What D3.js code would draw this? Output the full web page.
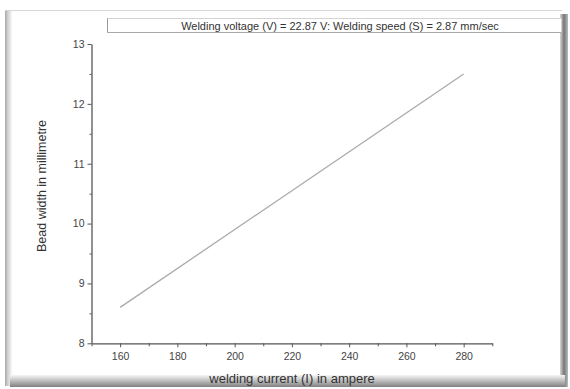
<!DOCTYPE html>
<html>
<head>
<meta charset="utf-8">
<script src="https://cdn.jsdelivr.net/npm/d3@7"></script>
<style>
  body { margin: 0; background: #fff; }
  svg { display: block; font-family: Arial, "Liberation Sans", sans-serif; }
  .axis path, .axis line { stroke: #555; }
  .axis text { fill: #444; font-size: 10.5px; }
</style>
</head>
<body>
<svg id="chart" width="570" height="389"></svg>
<script>
// data
const currents = [160, 280];
const beadWidths = [8.6, 12.5];
const xTicks = [160, 180, 200, 220, 240, 260, 280];
const yTicks = [8, 9, 10, 11, 12, 13];
const titleText = "Welding voltage (V) = 22.87 V: Welding speed (S) = 2.87 mm/sec";

const svg = d3.select("#chart");
const defs = svg.append("defs");

function grad(id, x2, y2, stops) {
  let g = defs.append("linearGradient").attr("id", id)
    .attr("x1", 0).attr("y1", 0).attr("x2", x2).attr("y2", y2);
  stops.forEach(s => g.append("stop").attr("offset", s[0]).attr("stop-color", s[1]));
}
grad("leftBand", 1, 0, [[0, "#a8a8a8"], [0.4, "#d0d0d0"], [1, "#f8f8f8"]]);
grad("rightBand", 1, 0, [[0, "#d8d8d8"], [0.5, "#777"], [1, "#bbb"]]);
grad("bottomBand", 0, 1, [[0, "#f6f6f6"], [0.6, "#b0b0b0"], [1, "#808080"]]);

// frame
svg.append("line").attr("x1", 5).attr("x2", 562).attr("y1", 10.5).attr("y2", 10.5)
  .attr("stroke", "#d6d6d6");
svg.append("rect").attr("x", 5).attr("y", 11).attr("width", 7).attr("height", 375)
  .attr("fill", "url(#leftBand)");
svg.append("rect").attr("x", 560).attr("y", 14).attr("width", 8).attr("height", 373)
  .attr("fill", "url(#rightBand)");
svg.append("rect").attr("x", 10).attr("y", 375).attr("width", 555).attr("height", 12)
  .attr("fill", "url(#bottomBand)");

// title box
svg.append("rect").attr("x", 107.5).attr("y", 18.5).attr("width", 454).attr("height", 14)
  .attr("fill", "#fff").attr("stroke", "#d4d4d4");
svg.append("line").attr("x1", 107.5).attr("x2", 107.5).attr("y1", 18.5).attr("y2", 32.5)
  .attr("stroke", "#999");
svg.append("line").attr("x1", 107.5).attr("x2", 561.5).attr("y1", 32.5).attr("y2", 32.5)
  .attr("stroke", "#aaa");
svg.append("text").attr("x", 340).attr("y", 29.5).attr("text-anchor", "middle")
  .attr("font-size", "11px").attr("fill", "#333").text(titleText);

const x = d3.scaleLinear().domain([150, 290]).range([91.5, 492.3]);
const y = d3.scaleLinear().domain([8, 13]).range([343.3, 44]);

// x axis: major ticks + minor ticks
const xAxis = svg.append("g").attr("class", "axis")
  .attr("transform", "translate(0,343.3)")
  .call(d3.axisBottom(x).tickValues(xTicks).tickSize(4).tickPadding(5).tickSizeOuter(0));
xAxis.select(".domain").attr("stroke-width", 1.3);
svg.append("g").attr("class", "axis")
  .attr("transform", "translate(0,343.3)")
  .call(d3.axisBottom(x).tickValues(d3.range(150, 300, 20)).tickSize(3).tickFormat("").tickSizeOuter(0))
  .select(".domain").remove();

const yAxis = svg.append("g").attr("class", "axis")
  .attr("transform", "translate(91.5,0)")
  .call(d3.axisLeft(y).tickValues(yTicks).tickFormat(d3.format("d")).tickSize(4).tickPadding(3).tickSizeOuter(0));
yAxis.select(".domain").attr("stroke-width", 1.3);
svg.append("g").attr("class", "axis")
  .attr("transform", "translate(91.5,0)")
  .call(d3.axisLeft(y).tickValues([8.5, 9.5, 10.5, 11.5, 12.5]).tickSize(2).tickFormat("").tickSizeOuter(0))
  .select(".domain").remove();

// axis titles
svg.append("text").attr("x", 292).attr("y", 383).attr("text-anchor", "middle")
  .attr("font-size", "13px").attr("fill", "#333").text("welding current (I) in ampere");
svg.append("text").attr("transform", "translate(46,186) rotate(-90)")
  .attr("text-anchor", "middle").attr("font-size", "12.5px").attr("fill", "#333")
  .text("Bead width in millimetre");

// line
const pts = currents.map((c, i) => [c, beadWidths[i]]);
svg.append("path").datum(pts)
  .attr("fill", "none").attr("stroke", "#aaa").attr("stroke-width", 1.3)
  .attr("d", d3.line().x(d => x(d[0])).y(d => y(d[1])));
</script>
</body>
</html>
